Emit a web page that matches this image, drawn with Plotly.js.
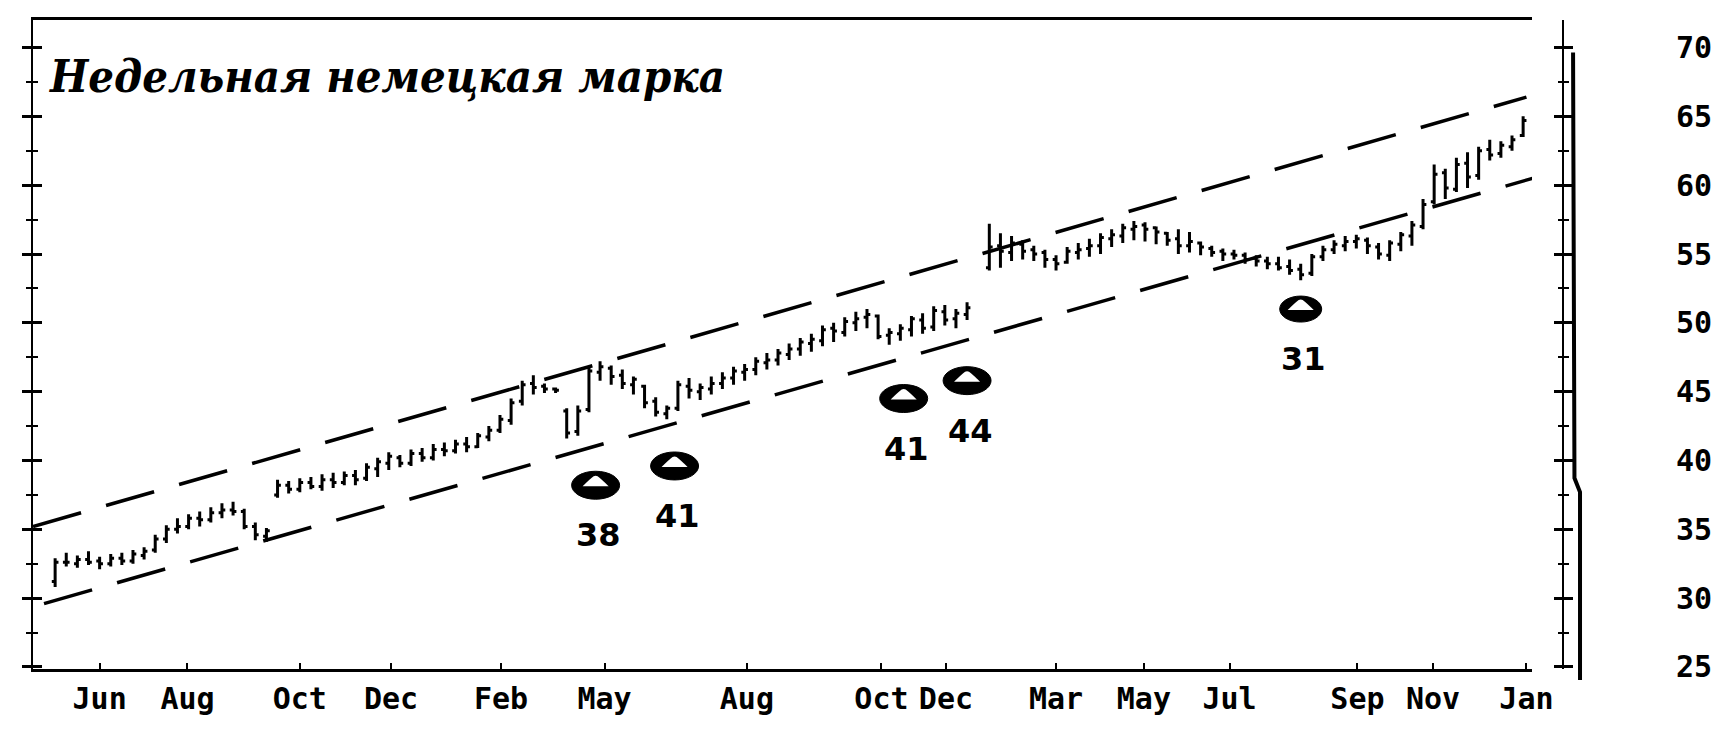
<!DOCTYPE html>
<html>
<head>
<meta charset="utf-8">
<script src="https://cdn.plot.ly/plotly-3.0.1.min.js"></script>
<style>
html,body{margin:0;padding:0;background:#fff;}
#chart{width:1728px;height:736px;}
</style>
</head>
<body>
<div id="chart"></div>
<script>
// ---- Weekly Deutsche mark bars (week index, open, high, low, close) ----
const weeks = [
  0,1,2,3,4,5,6,7,8,9,
  10,11,12,13,14,15,16,17,18,19,
  20,21,22,23,24,25,26,27,28,29,
  30,31,32,33,34,35,36,37,38,39,
  40,41,42,43,44,45,46,47,48,49,
  50,51,52,53,54,55,56,57,58,59,
  60,61,62,63,64,65,66,67,68,69,
  70,71,72,73,74,75,76,77,78,79,
  80,81,82,83,84,85,86,87,88,89,
  90,91,92,93,94,95,96,97,98,99,
  100,101,102,103,104,105,106,107,108,109,
  110,111,112,113,114,115,116,117,118,119,
  120,121,122,123,124,125,126,127,128,129,
  130,131,132
];
const openPrice = [
  31.2,32.6,32.5,32.8,32.7,32.5,32.9,32.7,33.1,33.5,
  34.3,35.0,35.2,35.8,35.7,36.2,36.4,36.3,35.2,34.5,
  37.5,38.2,37.9,38.4,38.1,38.6,38.4,38.9,38.7,39.4,
  39.8,40.2,39.8,40.5,40.2,40.8,40.7,41.2,41.0,41.7,
  42.2,42.9,44.3,45.6,45.4,45.2,43.6,42.1,43.7,46.4,
  46.7,46.2,45.5,45.4,44.3,43.4,43.8,45.4,45.0,45.2,
  45.6,46.0,46.4,46.6,47.1,47.3,47.7,48.1,48.5,48.7,
  49.6,49.3,50.0,50.4,50.5,49.1,49.2,49.5,50.2,49.7,
  50.8,50.3,50.6,null,54.0,55.6,55.1,55.7,55.3,55.1,
  54.6,54.4,55.1,55.4,55.6,56.1,56.3,56.8,57.1,56.9,
  56.5,56.1,55.6,55.8,55.4,55.2,55.0,54.9,54.7,54.5,
  54.3,54.1,53.9,53.6,54.8,55.3,55.6,55.9,56.0,55.5,
  54.9,55.7,56.3,57.0,58.8,60.9,59.7,61.6,60.7,62.6,
  62.3,62.8,63.6
];
const highPrice = [
  32.9,33.3,33.1,33.4,33.0,33.2,33.3,33.5,33.7,34.6,
  35.3,35.8,36.1,36.3,36.6,36.9,37.0,36.5,35.5,35.1,
  38.6,38.5,38.7,38.8,39.0,39.1,39.2,39.3,39.8,40.2,
  40.6,40.4,40.8,40.9,41.2,41.3,41.5,41.7,42.0,42.5,
  43.3,44.5,45.8,46.2,45.6,45.3,43.8,44.0,46.8,47.2,
  46.9,46.6,46.1,45.5,44.6,44.0,45.8,46.0,45.6,46.1,
  46.4,46.8,47.0,47.5,47.8,48.1,48.5,48.9,49.2,49.8,
  50.0,50.4,50.8,51.0,50.6,49.6,49.9,50.5,50.7,51.2,
  51.3,51.0,51.5,null,57.2,56.5,56.3,56.0,55.6,55.3,
  54.9,55.5,55.8,56.1,56.5,56.8,57.2,57.4,57.3,57.0,
  56.6,56.8,56.6,55.9,55.6,55.4,55.3,55.1,54.9,54.8,
  54.8,54.6,54.3,55.0,55.6,56.0,56.3,56.4,56.2,55.8,
  56.0,56.6,57.4,59.0,61.5,61.2,62.0,62.4,62.8,63.3,
  63.2,63.6,65.0
];
const lowPrice = [
  30.8,32.3,32.2,32.4,32.1,32.3,32.4,32.5,32.8,33.3,
  34.0,34.7,35.0,35.2,35.5,35.8,36.0,35.0,34.2,34.1,
  37.3,37.6,37.7,37.9,37.8,38.0,38.2,38.2,38.5,38.8,
  39.3,39.5,39.6,39.9,40.0,40.3,40.5,40.6,40.9,41.4,
  42.0,42.6,44.0,44.8,44.9,44.9,41.6,41.8,43.5,45.8,
  45.5,45.2,44.8,43.8,43.2,43.0,43.6,44.5,44.4,44.8,
  45.2,45.5,45.8,46.2,46.6,46.9,47.3,47.6,47.9,48.3,
  48.6,49.0,49.4,49.6,48.8,48.4,48.7,49.0,49.2,49.4,
  49.8,49.6,50.2,null,53.8,54.0,54.5,54.6,54.5,54.0,
  53.8,54.3,54.6,54.8,55.0,55.5,55.8,56.0,55.9,55.7,
  55.6,55.0,55.1,54.9,54.8,54.5,54.6,54.3,54.1,53.9,
  53.8,53.5,53.1,53.4,54.5,55.0,55.2,55.4,55.0,54.6,
  54.5,55.2,55.6,56.8,58.6,59.0,59.5,59.8,60.4,61.8,
  62.0,62.5,63.5
];
const closePrice = [
  32.6,32.6,32.8,32.6,32.5,32.9,32.7,33.2,33.4,34.3,
  35.0,35.2,35.8,35.7,36.2,36.4,36.3,35.2,34.6,34.9,
  38.2,37.9,38.4,38.1,38.6,38.4,38.9,38.6,39.5,39.9,
  40.3,39.8,40.5,40.2,40.8,40.7,41.2,41.0,41.8,42.2,
  43.0,44.2,45.5,45.3,45.2,45.1,42.0,43.6,46.5,46.8,
  46.1,45.6,45.9,44.2,43.5,43.8,45.5,45.1,45.3,45.6,
  46.0,46.5,46.6,47.2,47.3,47.8,48.1,48.6,48.8,49.5,
  49.4,50.1,50.3,50.6,49.0,49.3,49.6,50.3,49.6,50.9,
  50.2,50.7,51.1,null,55.5,55.2,55.8,55.2,55.0,54.6,
  54.3,55.2,55.3,55.6,56.2,56.4,56.9,57.0,56.8,56.6,
  56.0,55.6,55.9,55.5,55.1,55.0,54.9,54.6,54.5,54.3,
  54.0,53.8,53.5,54.8,55.3,55.7,55.9,56.1,55.6,55.0,
  55.8,56.4,57.1,58.6,60.8,59.8,61.5,60.6,62.5,62.2,
  62.9,63.3,64.7
];

// ---- Trend channel (dashed) ----
const upperChannelWeeks = [-1.99, 132.3];
const upperChannelPrice = [35.2, 66.4];
const lowerChannelWeeks = [-1.0, 133.3];
const lowerChannelPrice = [29.6, 60.6];

// ---- Market sentiment readings (ovals with numbers) ----
const sentimentWeeks  = [48.6, 55.7, 76.3, 82.0, 112.0];
const sentimentLevels = [38.2, 39.6, 44.5, 45.8, 51.0];
const sentimentValues = [38, 41, 41, 44, 31];

// ---- Axis ticks ----
const xTickWeeks = [4.0, 11.9, 22.0, 30.2, 40.1, 49.4, 62.2, 74.3, 80.1, 90.0, 97.9, 105.6, 117.1, 123.9, 132.3];
const xTickText  = ['Jun','Aug','Oct','Dec','Feb','May','Aug','Oct','Dec','Mar','May','Jul','Sep','Nov','Jan'];
const yTickVals  = [25, 30, 35, 40, 45, 50, 55, 60, 65, 70];
const yTickText  = ['25','30','35','40','45','50','55','60','65','70'];

const titleText = 'Недельная немецкая марка';

// ---------------------------------------------------------------
const monoFont = {family: 'DejaVu Sans Mono', size: 30, color: '#000', weight: 'bold'};
const yRange = [24.85, 72.0];

const traces = [
  {
    type: 'ohlc',
    x: weeks, open: openPrice, high: highPrice, low: lowPrice, close: closePrice,
    increasing: {line: {color: '#000', width: 3}},
    decreasing: {line: {color: '#000', width: 3}},
    tickwidth: 0.3,
    hoverinfo: 'skip',
    xaxis: 'x', yaxis: 'y'
  },
  {
    type: 'scatter', mode: 'lines',
    x: upperChannelWeeks, y: upperChannelPrice,
    line: {color: '#000', width: 3.5, dash: '50px,26px'},
    hoverinfo: 'skip', xaxis: 'x', yaxis: 'y'
  },
  {
    type: 'scatter', mode: 'lines',
    x: lowerChannelWeeks, y: lowerChannelPrice,
    line: {color: '#000', width: 3.5, dash: '50px,26px'},
    hoverinfo: 'skip', xaxis: 'x', yaxis: 'y'
  }
];

const shapes = [];
const annotations = [];
sentimentWeeks.forEach((w, i) => {
  const small = sentimentValues[i] < 35;
  const hw = small ? 21 : 24;
  const hh = small ? 13 : 14;
  const base = {xref: 'x', yref: 'y', xsizemode: 'pixel', ysizemode: 'pixel',
    xanchor: w, yanchor: sentimentLevels[i]};
  shapes.push(Object.assign({type: 'circle', x0: -hw, x1: hw, y0: -hh, y1: hh,
    fillcolor: '#000', line: {color: '#000', width: 1}}, base));
  shapes.push(Object.assign({type: 'path',
    path: 'M -13 -1 Q -6 6 -2 9 Q 0 10 2 9 Q 6 6 13 -1 Z',
    fillcolor: '#fff', line: {width: 0}}, base));
  annotations.push({x: w, y: sentimentLevels[i], xref: 'x', yref: 'y', showarrow: false,
    text: String(sentimentValues[i]), yshift: -50, xshift: 3,
    font: {family: 'DejaVu Sans', size: 32, color: '#000', weight: 'bold'}});
});

// thick right-hand bar of the original scale
shapes.push({type: 'path', xref: 'paper', yref: 'paper',
  path: 'M 0.9981 0.9500 L 0.9990 0.2943 L 1.0026 0.2727 L 1.0026 -0.0169',
  line: {color: '#000', width: 4}});

const minorTicks = (dir) => ({dtick: 2.5, tick0: 25, ticks: dir, ticklen: 5, tickwidth: 2, tickcolor: '#000', showgrid: false});

const layout = {
  width: 1728, height: 736,
  margin: {l: 33, r: 152, t: 20, b: 67, pad: 0},
  paper_bgcolor: '#fff', plot_bgcolor: '#fff',
  showlegend: false,
  title: {
    text: titleText, xref: 'container', yref: 'container',
    x: 50 / 1728, xanchor: 'left', y: 1 - 76 / 736, yanchor: 'middle',
    font: {family: 'DejaVu Serif Condensed, DejaVu Serif', size: 45, weight: 'bold', style: 'italic', color: '#000'}
  },
  xaxis: {
    domain: [0, 0.9715], range: [-1.99, 132.8],
    showgrid: false, zeroline: false,
    showline: true, linecolor: '#000', linewidth: 3, mirror: true,
    ticks: 'inside', ticklen: 6, tickwidth: 2, tickcolor: '#000',
    tickmode: 'array', tickvals: xTickWeeks, ticktext: xTickText,
    tickfont: monoFont, ticklabelstandoff: 1,
    rangeslider: {visible: false}, fixedrange: true
  },
  yaxis: {
    range: yRange, showgrid: false, zeroline: false,
    showline: true, linecolor: '#000', linewidth: 2,
    ticks: 'outside', ticklen: 9, tickwidth: 3, tickcolor: '#000',
    tickmode: 'array', tickvals: yTickVals, showticklabels: false,
    minor: minorTicks('outside'), fixedrange: true
  },
  yaxis3: {
    range: yRange, overlaying: 'y', anchor: 'x', side: 'left',
    showgrid: false, zeroline: false, showline: false,
    ticks: 'inside', ticklen: 9, tickwidth: 3, tickcolor: '#000',
    tickmode: 'array', tickvals: yTickVals, showticklabels: false,
    minor: minorTicks('inside'), fixedrange: true
  },
  yaxis2: {
    range: yRange, overlaying: 'y', anchor: 'free', position: 0.9916, side: 'right',
    showgrid: false, zeroline: false,
    showline: true, linecolor: '#000', linewidth: 2,
    ticks: 'outside', ticklen: 9, tickwidth: 3, tickcolor: '#000',
    tickmode: 'array', tickvals: yTickVals, ticktext: yTickText,
    tickfont: monoFont, ticklabelstandoff: 97,
    minor: minorTicks('outside'), fixedrange: true
  },
  yaxis4: {
    range: yRange, overlaying: 'y', anchor: 'free', position: 0.9916, side: 'right',
    showgrid: false, zeroline: false, showline: false,
    ticks: 'inside', ticklen: 9, tickwidth: 3, tickcolor: '#000',
    tickmode: 'array', tickvals: yTickVals, showticklabels: false,
    minor: minorTicks('inside'), fixedrange: true
  },
  shapes: shapes,
  annotations: annotations
};

// invisible helper traces so the overlay axes are drawn
traces.push({type: 'scatter', mode: 'lines', x: [], y: [], xaxis: 'x', yaxis: 'y2', hoverinfo: 'skip'});
traces.push({type: 'scatter', mode: 'lines', x: [], y: [], xaxis: 'x', yaxis: 'y3', hoverinfo: 'skip'});
traces.push({type: 'scatter', mode: 'lines', x: [], y: [], xaxis: 'x', yaxis: 'y4', hoverinfo: 'skip'});

Plotly.newPlot('chart', traces, layout, {displayModeBar: false, staticPlot: true});
</script>
</body>
</html>
